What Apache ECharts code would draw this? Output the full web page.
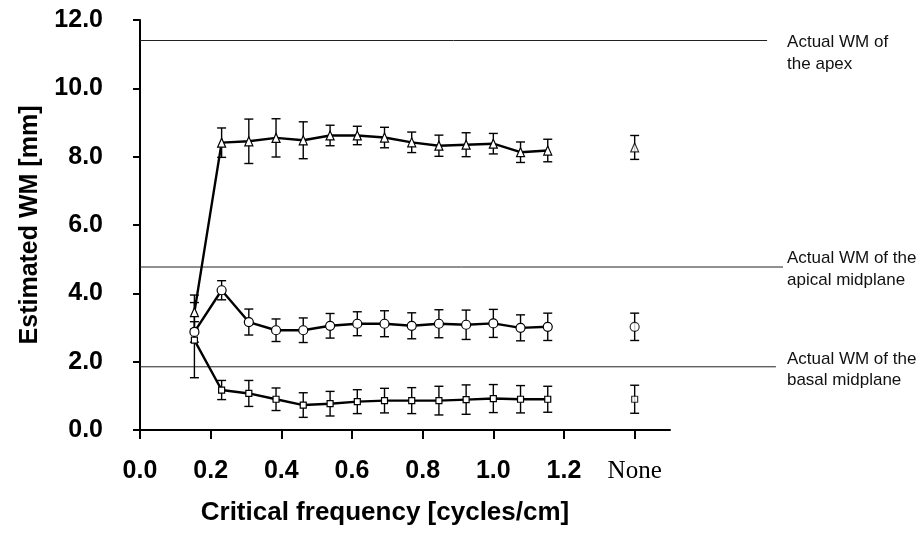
<!DOCTYPE html>
<html style="height: 100%">

<head>
    <meta charset="utf-8">
</head>

<body style="height: 100%; margin: 0; background: #fff">
    <div id="container" style="width: 922px; height: 536px"></div>
    <script type="text/javascript" src="https://cdn.jsdelivr.net/npm/echarts@6/dist/echarts.min.js"></script>

    <script type="text/javascript">
        // critical frequency of each point [cycles/cm]; the "None" column sits at 1.4
        var freq = [0.154, 0.231, 0.308, 0.385, 0.462, 0.538, 0.615, 0.692, 0.769, 0.846, 0.923, 1.0, 1.077, 1.154];
        var noneX = 1.4;
        var xTicks = [0, 0.2, 0.4, 0.6, 0.8, 1.0, 1.2, 1.4];

        // apex (triangles)
        var apex = [3.45, 8.41, 8.45, 8.55, 8.48, 8.62, 8.62, 8.56, 8.42, 8.32, 8.35, 8.38, 8.13, 8.18];
        var apexErr = [0.5, 0.43, 0.65, 0.56, 0.54, 0.3, 0.27, 0.3, 0.3, 0.31, 0.35, 0.3, 0.3, 0.33];
        var apexNone = [8.27, 0.35];

        // apical midplane (circles)
        var apical = [2.87, 4.09, 3.16, 2.92, 2.92, 3.05, 3.11, 3.11, 3.05, 3.11, 3.08, 3.12, 2.99, 3.02];
        var apicalErr = [0.3, 0.28, 0.38, 0.33, 0.36, 0.36, 0.35, 0.38, 0.38, 0.41, 0.43, 0.41, 0.38, 0.4];
        var apicalNone = [3.02, 0.4];

        // basal midplane (squares)
        var basal = [2.63, 1.17, 1.07, 0.9, 0.73, 0.77, 0.83, 0.86, 0.86, 0.86, 0.89, 0.92, 0.9, 0.9];
        var basalErr = [1.1, 0.28, 0.38, 0.33, 0.36, 0.36, 0.35, 0.36, 0.38, 0.42, 0.43, 0.41, 0.4, 0.38];
        var basalNone = [0.9, 0.41];

        // actual WM reference lines
        var refValues = [11.4, 4.77, 1.85];
        var refEnds = [1.775, 1.82, 1.8];
        var refLabels = ['Actual WM of\nthe apex', 'Actual WM of the\napical midplane', 'Actual WM of the\nbasal midplane'];

        var dom = document.getElementById("container");
        var myChart = echarts.init(dom);

        function pts(ys) {
            return ys.map(function (y, i) { return [freq[i], y]; });
        }
        function errPts(ys, es, none) {
            var d = ys.map(function (y, i) { return [freq[i], y, es[i]]; });
            d.push([noneX, none[0], none[1]]);
            return d;
        }
        function renderErr(params, api) {
            var x = api.value(0), y = api.value(1), e = api.value(2);
            var top = api.coord([x, y + e]);
            var bot = api.coord([x, y - e]);
            var w = 4.5;
            var st = { stroke: '#000', lineWidth: 1.4 };
            return {
                type: 'group',
                children: [
                    { type: 'line', shape: { x1: top[0], y1: top[1], x2: bot[0], y2: bot[1] }, style: st },
                    { type: 'line', shape: { x1: top[0] - w, y1: top[1], x2: top[0] + w, y2: top[1] }, style: st },
                    { type: 'line', shape: { x1: bot[0] - w, y1: bot[1], x2: bot[0] + w, y2: bot[1] }, style: st }
                ]
            };
        }
        function errSeries(data) {
            return {
                type: 'custom', xAxisIndex: 0, yAxisIndex: 0, z: 2,
                renderItem: renderErr, encode: { x: 0, y: 1 }, data: data
            };
        }
        var markerStyle = { color: '#fff', borderColor: '#000', borderWidth: 1.2 };
        function lineSeries(data, symbol, size) {
            return {
                type: 'line', xAxisIndex: 0, yAxisIndex: 0, z: 3,
                data: data, symbol: symbol, symbolSize: size, showAllSymbol: true,
                lineStyle: { color: '#000', width: 2.4 }, itemStyle: markerStyle
            };
        }
        function noneSeries(p, symbol, size) {
            return {
                type: 'scatter', xAxisIndex: 0, yAxisIndex: 0, z: 3,
                data: [[noneX, p[0]]], symbol: symbol, symbolSize: size, itemStyle: markerStyle
            };
        }

        var refDist = [20, 4, 11];
        var refOffset = [13, 2, 3];
        var refSeries = refValues.map(function (v, i) {
            return {
                type: 'line', xAxisIndex: 1, yAxisIndex: 1, z: 1,
                data: [[0, v], [refEnds[i], v]], showSymbol: false, symbol: 'none',
                lineStyle: { color: '#222', width: 1 },
                endLabel: {
                    show: true, formatter: refLabels[i], distance: refDist[i], offset: [0, refOffset[i]],
                    fontFamily: 'Liberation Sans', fontSize: 17, lineHeight: 21.7, color: '#111', align: 'left'
                }
            };
        });

        var labelFont = { fontFamily: 'Liberation Sans', fontWeight: 'bold', fontSize: 25, color: '#000' };

        option = {
            animation: false,
            grid: [
                { left: 140, right: 252, top: 20, bottom: 106 },
                { left: 140, right: 139, top: 20, bottom: 106 }
            ],
            xAxis: [{
                type: 'value', gridIndex: 0, min: 0, max: 1.5, interval: 0.2,
                axisLine: { lineStyle: { color: '#000', width: 2 } },
                axisTick: { show: true, customValues: xTicks, length: 9, lineStyle: { color: '#000', width: 2 } },
                splitLine: { show: false },
                axisLabel: Object.assign({
                    customValues: xTicks, margin: 29,
                    formatter: function (v) {
                        return Math.abs(v - noneX) < 1e-6 ? '{n|None}' : v.toFixed(1);
                    },
                    rich: { n: { fontFamily: 'Liberation Serif', fontWeight: 'normal', fontSize: 25, color: '#000' } }
                }, labelFont),
                name: 'Critical frequency [cycles/cm]', nameLocation: 'middle', nameGap: 70,
                nameTextStyle: { fontFamily: 'Liberation Sans', fontWeight: 'bold', color: '#000', fontSize: 26, padding: [0, 40, 0, 0] }
            }, {
                type: 'value', gridIndex: 1, min: 0, max: 1.82, show: false
            }],
            yAxis: [{
                type: 'value', gridIndex: 0, min: 0, max: 12, interval: 2,
                axisLine: { show: true, lineStyle: { color: '#000', width: 2 } },
                axisTick: { show: true, length: 7, lineStyle: { color: '#000', width: 2 } },
                splitLine: { show: false },
                axisLabel: Object.assign({
                    margin: 37,
                    formatter: function (v) { return v.toFixed(1); }
                }, labelFont),
                name: 'Estimated WM [mm]', nameLocation: 'middle', nameGap: 97,
                nameTextStyle: labelFont
            }, {
                type: 'value', gridIndex: 1, min: 0, max: 12, show: false
            }],
            series: refSeries.concat([
                errSeries(errPts(apex, apexErr, apexNone)),
                errSeries(errPts(apical, apicalErr, apicalNone)),
                errSeries(errPts(basal, basalErr, basalNone)),
                lineSeries(pts(apex), 'triangle', [8, 9]),
                lineSeries(pts(apical), 'circle', 9),
                lineSeries(pts(basal), 'rect', 6),
                noneSeries(apexNone, 'triangle', [8, 9]),
                noneSeries(apicalNone, 'circle', 9),
                noneSeries(basalNone, 'rect', 6)
            ])
        };

        myChart.setOption(option);
    </script>
</body>

</html>
